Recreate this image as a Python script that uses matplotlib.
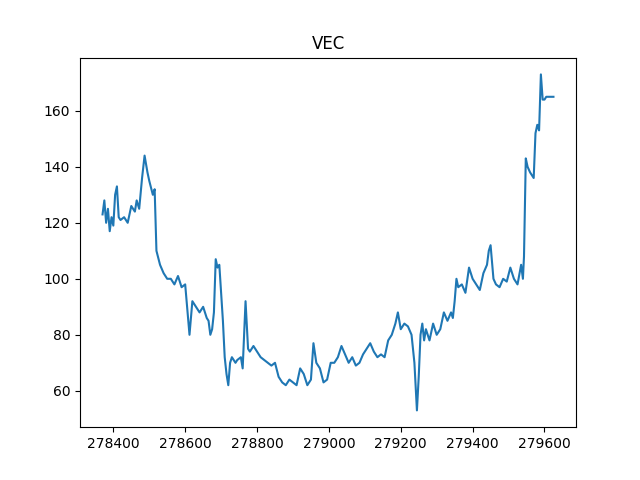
import matplotlib
matplotlib.use("Agg")
import matplotlib.pyplot as plt
import numpy as np

xs = [278370,278375,278380,278385,278390,278395,278400,278405,278410,278415,278420,278430,278440,278450,278460,
      278465,278472,278480,278487,278495,278500,278510,278515,278520,278530,278540,278550,278560,278570,278580,278590,278600,
      278612,278620,278630,278640,278650,278655,278660,278665,278670,278675,278680,278685,278690,278695,278700,278705,278710,278715,
      278720,278725,278730,278740,278745,278755,278760,278768,278775,278780,278790,278800,278810,278820,278830,278840,278850,
      278860,278870,278880,278890,278900,278910,278920,278930,278940,278950,278957,278965,278975,278985,278995,
      279005,279015,279025,279035,279045,279055,279065,279075,279085,279095,279105,279115,279125,279135,279145,
      279155,279165,279175,279185,279192,279200,279210,279220,279230,279238,279245,279250,279255,279260,279265,279270,
      279280,279290,279300,279310,279320,279330,279340,279345,279350,279355,279360,279370,279380,279390,279400,
      279410,279420,279430,279440,279445,279450,279458,279465,279475,279485,279495,279505,279515,279525,279535,279540,
      279543,279548,279553,279560,279565,279570,279575,279580,279585,279590,279595,279600,279605,279615,279625]
values = [123,128,120,125,117,122,119,130,133,122,121,122,120,126,124,
          128,125,136,144,138,135,130,132,110,105,102,100,100,98,101,97,98,
          80,92,90,88,90,88,86,85,80,82,88,107,104,105,95,85,72,66,
          62,70,72,70,71,72,68,92,75,74,76,74,72,71,70,69,70,
          65,63,62,64,63,62,68,66,62,64,77,70,68,63,64,
          70,70,72,76,73,70,72,69,70,73,75,77,74,72,73,
          72,78,80,84,88,82,84,83,80,70,53,65,80,84,78,82,
          78,84,80,82,88,85,88,86,92,100,97,98,95,104,100,
          98,96,102,105,110,112,100,98,97,100,99,104,100,98,105,100,
          108,143,140,138,137,136,152,155,153,173,164,164,165,165,165]

fig, ax = plt.subplots(figsize=(6.4, 4.8), dpi=100)
ax.plot(xs[:len(values)], values[:len(xs)], color='#1f77b4')
ax.set_title('VEC')
fig.savefig('out.png')
